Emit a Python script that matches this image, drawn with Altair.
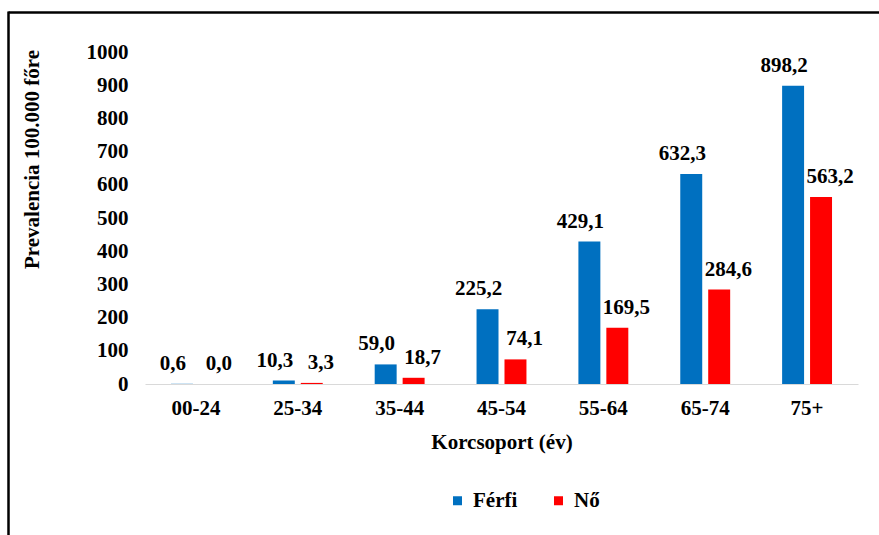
import altair as alt
import pandas as pd

# Age groups and prevalence per 100,000 by sex
age_groups = ["00-24", "25-34", "35-44", "45-54", "55-64", "65-74", "75+"]
ferfi = [0.6, 10.3, 59.0, 225.2, 429.1, 632.3, 898.2]
no = [0.0, 3.3, 18.7, 74.1, 169.5, 284.6, 563.2]
series = ["Férfi", "Nő"]
colors = ["#0070C0", "#FF0000"]
y_ticks = [0, 100, 200, 300, 400, 500, 600, 700, 800, 900, 1000]

rows = []
for i, g in enumerate(age_groups):
    rows.append({"age": g, "sex": series[0], "value": ferfi[i]})
    rows.append({"age": g, "sex": series[1], "value": no[i]})
df = pd.DataFrame(rows)

FONT = "Liberation Serif"
FS = 21

x_enc = alt.X(
    "age:N",
    sort=age_groups,
    scale=alt.Scale(paddingInner=0.51, paddingOuter=0.255),
    axis=alt.Axis(
        title="Korcsoport (év)",
        labelAngle=0,
        ticks=False,
        domainColor="#D9D9D9",
        domainWidth=1.2,
        labelOverlap=False,
        labelFont=FONT,
        labelFontWeight="bold",
        labelFontSize=FS,
        labelColor="#000000",
        labelPadding=13,
        titleFont=FONT,
        titleFontWeight="bold",
        titleFontSize=FS,
        titleColor="#000000",
        titleBaseline="alphabetic",
        titleY=64,
    ),
)
y_enc = alt.Y(
    "value:Q",
    scale=alt.Scale(domain=[0, 1000], nice=False),
    axis=alt.Axis(
        title="Prevalencia 100.000 főre",
        values=y_ticks,
        format="d",
        grid=False,
        domain=False,
        ticks=False,
        labelOverlap=False,
        labelFont=FONT,
        labelFontWeight="bold",
        labelFontSize=FS,
        labelColor="#000000",
        labelPadding=17,
        titleFont=FONT,
        titleFontWeight="bold",
        titleFontSize=FS,
        titleColor="#000000",
        titleAngle=-90,
        titleAlign="center",
        titleBaseline="middle",
        titleX=-113,
        titleY=107,
    ),
)

bars = alt.Chart(df).mark_bar().encode(
    x=x_enc,
    y=y_enc,
    xOffset=alt.XOffset(
        "sex:N", sort=series, scale=alt.Scale(paddingInner=0.214, paddingOuter=0)
    ),
    color=alt.Color(
        "sex:N",
        sort=series,
        scale=alt.Scale(domain=series, range=colors),
        legend=alt.Legend(
            title=None,
            orient="none",
            direction="horizontal",
            legendX=302,
            legendY=438,
            symbolType="square",
            symbolSize=81,
            symbolStrokeWidth=0,
            labelFont=FONT,
            labelFontWeight="bold",
            labelFontSize=FS,
            labelColor="#000000",
            labelOffset=5,
            columnPadding=30,
            padding=0,
        ),
    ),
)

# Value labels sit above the bars, spread a little wider than the bar pair
labels = alt.Chart(df).transform_calculate(
    label="replace(format(datum.value, '.1f'), '.', ',')"
).mark_text(
    font=FONT, fontWeight="bold", fontSize=FS, color="#000000",
    baseline="alphabetic", dy=-14,
).encode(
    x=x_enc,
    y=y_enc,
    xOffset=alt.XOffset(
        "sex:N", sort=series, scale=alt.Scale(type="point", range=[2, 48], padding=0)
    ),
    text="label:N",
)

# Frame lines along the top and left edges of the figure
frame_data = alt.Data(values=[{}])
top_line = alt.Chart(frame_data).mark_rule(color="#000000", strokeWidth=2.5).encode(
    x=alt.value(-136.5), x2=alt.value(740), y=alt.value(-39.5)
)
left_line = alt.Chart(frame_data).mark_rule(color="#000000", strokeWidth=2.5).encode(
    x=alt.value(-136.5), y=alt.value(-40.5), y2=alt.value(490)
)

chart = alt.layer(bars, labels, top_line, left_line).resolve_scale(
    xOffset="independent"
).properties(
    width=713,
    height=332,
    autosize=alt.AutoSizeParams(type="none"),
    padding={"left": 145, "top": 52, "right": 21, "bottom": 151},
    background="#FFFFFF",
).configure_view(
    stroke=None
).configure_axis(
    labelOverlap=False
)

chart.save("out.html", embed_options={"renderer": "svg", "actions": False})
